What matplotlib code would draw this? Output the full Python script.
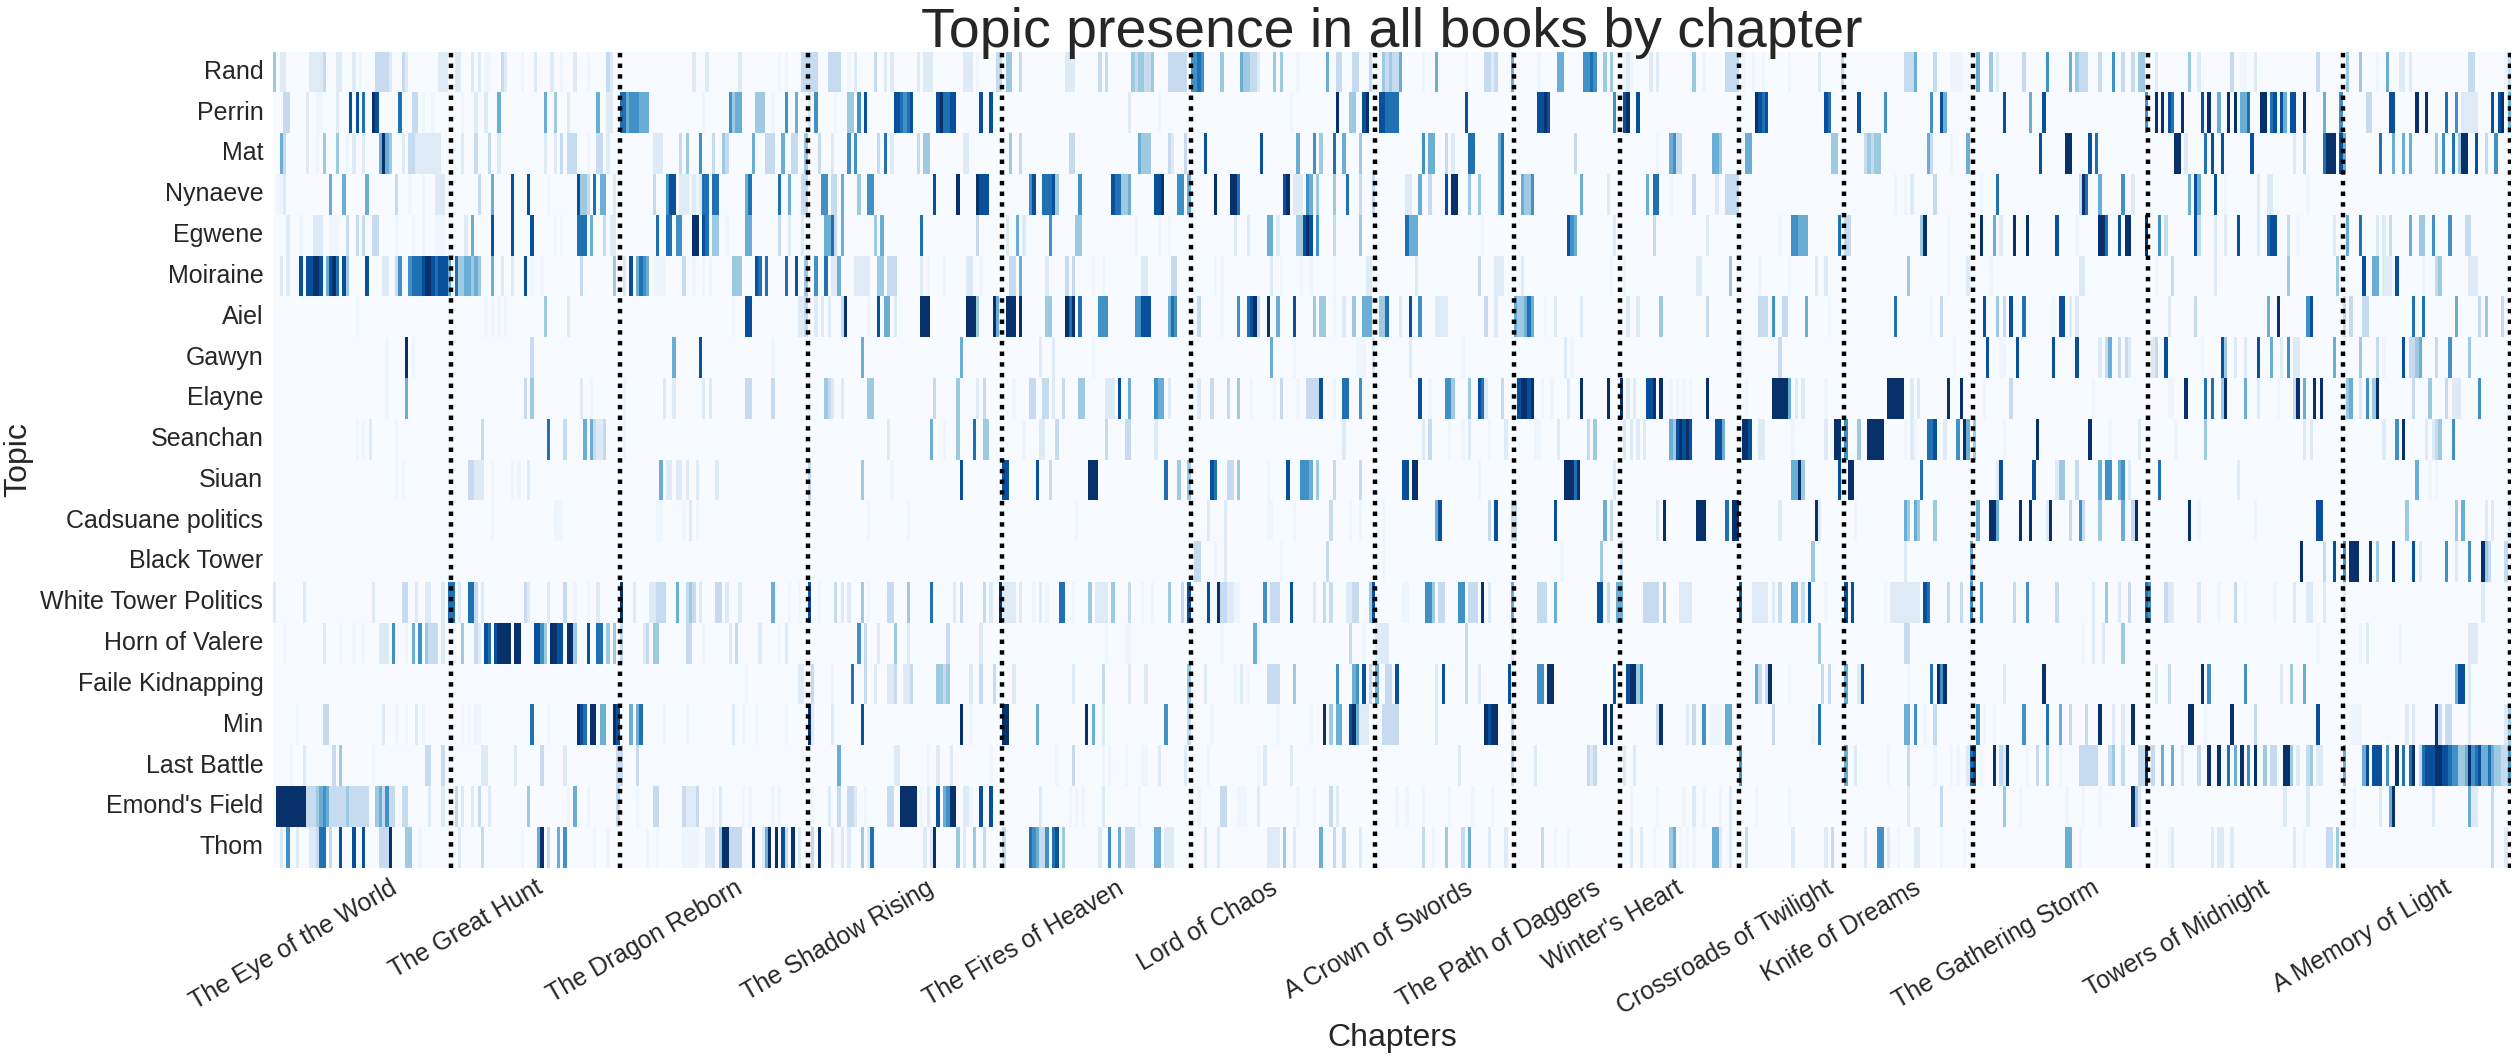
import numpy as np
import pandas as pd
import matplotlib
matplotlib.use("Agg")
import matplotlib.pyplot as plt
import seaborn as sns

# Book names and number of chapters per book (prologue/epilogue included)
books = ["The Eye of the World", "The Great Hunt", "The Dragon Reborn", "The Shadow Rising",
         "The Fires of Heaven", "Lord of Chaos", "A Crown of Swords", "The Path of Daggers",
         "Winter's Heart", "Crossroads of Twilight", "Knife of Dreams", "The Gathering Storm",
         "Towers of Midnight", "A Memory of Light"]
book_chapters = [54, 51, 57, 59, 57, 56, 42, 32, 36, 32, 39, 53, 59, 51]

topics = ["Rand", "Perrin", "Mat", "Nynaeve", "Egwene", "Moiraine", "Aiel", "Gawyn", "Elayne",
          "Seanchan", "Siuan", "Cadsuane politics", "Black Tower", "White Tower Politics",
          "Horn of Valere", "Faile Kidnapping", "Min", "Last Battle", "Emond's Field", "Thom"]

# Topic presence: chapter -> strength (1 faint .. 9 full)
rand = {0:4,2:2,3:2,11:2,12:2,13:2,14:2,15:3,19:2,20:2,24:2,26:1,31:3,32:3,33:3,34:3,35:2,39:3,40:2,50:2,51:2,52:2,
        55:2,56:2,60:2,62:2,64:1,65:1,69:3,70:2,75:1,79:2,84:2,87:1,91:2,95:1,101:3,102:2,
        127:2,131:2,141:2,153:1,155:1,160:3,161:3,162:3,163:3,164:3,168:3,169:3,170:3,171:3,174:1,176:2,182:3,185:2,187:2,195:2,197:2,198:2,199:2,
        209:2,210:2,211:2,213:1,219:3,220:3,222:4,223:4,226:3,240:2,241:2,242:2,250:3,252:3,260:4,261:3,262:4,263:4,264:3,265:3,266:4,
        271:3,272:3,273:3,274:3,275:3,276:3,278:6,279:6,280:7,281:6,287:4,293:5,294:4,295:4,296:3,297:3,298:2,
        303:4,305:4,310:1,319:5,322:3,323:3,327:3,328:3,332:3,336:4,337:3,338:4,339:3,340:3,341:5,348:1,352:5,361:1,367:3,368:3,369:2,370:3,375:5,
        383:1,389:5,390:5,397:6,398:6,399:7,400:6,403:4,405:4,409:1,410:2,411:1,417:2,419:2,430:4,433:1,440:3,441:3,442:3,443:3,445:1,448:1,451:1,459:1,468:2,475:3,
        494:3,495:3,496:3,497:5,503:3,508:1,509:1,510:1,511:1,516:5,520:4,522:2,530:3,537:6,544:5,546:4,547:3,548:3,549:3,553:3,557:6,560:3,563:3,565:4,566:4,
        570:2,580:4,583:2,593:3,596:1,597:1,600:2,619:3,628:4,632:4,637:1,640:5,644:2,645:2,647:2,665:3,666:3,676:1,677:3}
perrin = {3:3,4:3,10:2,13:1,14:1,19:2,23:8,25:8,27:7,30:9,31:8,38:7,42:3,43:3,45:1,48:1,57:1,61:2,64:2,68:5,82:5,85:4,89:2,98:5,101:2,102:2,
          105:7,106:7,107:5,108:6,109:6,110:6,111:5,112:5,113:5,130:1,138:6,139:4,140:5,141:5,146:4,147:4,148:4,151:1,155:6,158:5,162:2,164:6,170:1,174:4,175:4,177:6,179:8,
          188:8,189:8,190:7,191:6,192:7,193:8,201:8,202:9,203:7,204:7,205:8,206:8,214:8,217:8,259:2,268:1,
          308:1,322:9,326:4,327:4,330:8,331:9,335:8,336:8,337:7,338:7,339:7,340:7,361:8,383:8,384:8,385:9,386:8,406:6,409:8,410:9,413:8,
          449:9,450:8,451:7,452:8,470:8,471:7,480:8,488:6,502:6,505:8,506:5,524:8,532:5,536:8,
          567:6,570:9,572:9,574:8,575:7,578:9,584:8,586:9,589:5,592:9,594:9,596:5,597:5,598:7,602:9,603:9,605:7,606:8,608:8,609:5,611:8,612:8,615:9,621:5,626:6,
          634:3,635:3,641:8,642:8,649:9,652:9,658:7,661:6,663:2,664:2,665:2,666:2,667:2,672:8,674:8,675:9,677:5}
mat = {2:5,3:3,10:2,13:1,15:4,19:4,22:1,24:2,27:2,32:5,33:9,34:5,35:4,39:2,41:3,42:3,43:2,44:2,45:2,46:2,47:2,48:2,49:2,50:2,
       57:2,61:3,65:3,68:2,82:2,85:2,87:3,89:3,90:3,91:3,95:1,98:3,99:3,101:2,
       115:2,116:2,117:2,123:3,125:4,129:6,133:3,136:4,137:3,145:5,149:3,150:3,151:3,154:5,157:3,158:3,161:4,165:3,169:2,174:6,176:6,183:3,185:7,187:2,
       195:3,197:4,198:4,209:2,210:2,223:4,226:3,241:3,242:3,262:5,263:4,264:4,265:4,271:3,272:2,276:3,282:8,299:8,
       310:5,315:6,317:4,321:7,324:5,329:4,348:6,350:5,351:5,355:3,357:2,362:7,363:7,371:5,372:7,394:3,419:1,423:5,424:6,425:3,426:3,
       436:5,437:5,438:4,446:5,447:5,472:4,473:4,482:3,483:4,484:3,485:4,486:4,501:5,502:3,508:1,513:5,535:8,543:9,544:9,550:8,552:7,
       576:9,577:9,579:2,585:7,587:8,590:8,599:8,612:2,615:3,621:7,622:9,623:9,624:9,626:8,627:5,
       638:7,642:5,645:5,647:5,655:4,657:6,660:7,662:4,663:9,664:9,667:8,670:3,673:6}
nynaeve = {1:1,2:1,3:2,17:5,21:5,28:5,37:3,41:1,45:1,49:2,50:2,51:2,62:3,66:5,72:8,77:8,83:1,92:8,93:4,94:4,95:3,97:7,99:5,100:5,103:2,
           115:3,119:6,120:8,121:8,123:2,124:2,125:2,126:1,127:2,128:1,129:2,130:7,131:7,133:7,134:7,143:5,144:7,153:7,156:5,160:3,161:3,
           166:6,167:6,169:3,170:3,172:5,177:4,180:6,181:6,200:8,207:9,213:9,214:8,215:8,216:8,229:6,230:8,233:7,234:7,235:7,236:8,237:4,244:6,
           254:8,255:7,256:7,257:4,258:4,259:5,267:8,268:8,269:9,274:6,275:6,277:5,285:9,290:9,291:9,292:7,
           306:8,307:9,309:2,310:2,311:2,313:6,314:5,316:4,321:4,325:7,329:3,333:3,343:2,344:2,347:5,350:3,355:8,357:9,358:9,362:4,365:4,371:5,372:7,
           378:5,379:4,380:4,381:6,396:5,404:2,416:5,418:7,419:7,423:1,430:3,437:2,440:3,441:3,442:3,443:3,
           491:1,494:1,496:2,503:3,517:1,522:7,547:3,548:9,549:7,553:5,560:6,563:2,580:5,582:8,583:5,588:8,591:1,601:2,604:2,605:2,616:1}
egwene = {4:2,8:1,12:2,13:2,14:2,17:1,18:1,19:1,22:3,25:3,27:3,30:3,31:3,37:1,42:1,45:1,49:1,50:1,51:1,58:2,60:5,66:8,72:8,78:8,85:1,87:1,
          92:7,93:7,94:7,96:5,100:3,102:2,103:2,116:7,119:7,120:7,122:6,123:6,127:9,128:9,130:8,131:7,133:4,134:4,137:1,143:5,144:5,153:3,156:2,160:2,
          167:5,168:5,169:7,170:3,172:5,182:4,184:5,196:7,213:3,222:2,225:5,227:2,235:6,243:4,244:4,261:1,268:1,271:1,291:2,295:2,301:5,302:5,304:2,
          310:4,311:4,312:8,313:9,314:8,316:6,321:3,329:4,343:7,344:5,345:5,346:5,366:1,392:8,393:6,394:5,406:2,418:3,434:2,456:1,460:6,461:6,462:5,463:5,464:5,
          474:7,476:3,477:3,499:4,500:9,507:1,517:9,521:5,523:2,527:9,531:9,540:8,546:1,553:9,554:9,555:7,559:8,561:9,562:9,567:9,
          571:6,573:3,582:8,583:3,588:2,591:2,595:8,601:2,604:7,605:8,606:8,610:3,613:1,624:2,628:5,632:7,637:2,639:2,641:3,647:5,650:4,651:4,654:6,659:6,664:3,665:3}
moiraine = {2:2,4:2,8:8,10:8,11:8,12:9,13:9,14:8,16:5,17:8,18:9,19:7,21:8,22:4,28:8,33:2,34:2,37:3,38:6,41:6,42:7,43:7,44:7,45:8,46:9,47:9,48:8,49:7,50:8,51:8,52:8,53:5,
            55:7,56:4,57:4,58:5,59:5,60:4,61:5,62:4,66:5,69:2,72:2,76:8,78:1,81:1,93:3,103:4,106:2,108:8,110:5,111:7,112:6,113:5,115:1,116:1,117:1,118:1,124:3,127:1,130:1,132:1,
            139:4,140:4,141:4,146:8,147:7,149:7,155:7,158:8,161:4,164:6,167:7,169:2,170:2,171:5,176:2,177:2,178:2,179:2,180:2,183:4,184:4,186:3,187:3,188:3,196:2,198:1,203:1,210:2,211:2,214:1,
            223:3,224:3,226:5,234:2,240:3,242:3,248:1,251:1,263:2,264:2,272:3,273:3,285:1,287:1,302:2,305:1,311:1,314:1,321:1,331:2,332:2,346:2,365:3,370:2,371:2,372:2,378:2,
            405:1,409:1,431:2,432:2,441:4,450:1,459:1,467:2,470:2,495:4,507:1,513:2,520:1,547:2,548:2,570:1,575:3,588:2,610:4,625:4,
            633:8,636:5,637:5,639:2,640:2,641:2,643:8,651:1,655:3,656:4,665:2,666:2,667:2}
aiel = {25:1,64:1,66:1,68:1,70:1,82:4,89:2,139:1,143:8,144:8,159:2,160:2,161:3,164:2,166:2,168:2,172:3,173:9,180:1,183:8,185:5,186:5,188:2,
        196:9,197:9,198:9,210:9,211:9,212:9,213:4,218:9,219:5,222:9,223:9,224:9,226:9,234:4,235:4,240:9,241:7,242:9,244:7,250:6,251:6,252:6,
        261:6,262:6,263:8,264:8,265:8,271:5,272:7,273:6,280:3,287:1,292:6,295:7,296:8,297:9,298:3,301:9,304:5,309:8,315:4,317:4,318:4,321:1,324:2,327:4,330:5,331:5,332:5,335:4,336:4,337:7,
        341:2,344:8,347:6,352:2,353:2,354:2,355:2,367:3,370:2,376:5,377:4,378:4,379:5,380:7,381:5,385:1,388:2,396:2,410:2,413:2,420:4,434:3,450:3,451:3,452:3,454:6,457:3,458:3,464:5,471:1,
        491:7,502:1,505:3,518:8,522:4,524:3,526:8,530:7,539:1,541:8,542:8,544:2,546:2,574:2,582:3,604:5,607:9,616:6,617:8,627:3,629:3,633:3,634:3,648:7,651:7,661:5,668:3,670:4,675:3}
gawyn = {34:1,40:9,42:1,78:3,121:5,129:8,151:1,178:5,208:5,232:2,236:2,248:1,302:5,309:1,328:1,329:1,330:1,333:2,344:2,360:1,391:2,393:1,444:2,456:3,
         509:1,519:8,523:1,524:1,528:8,539:8,546:8,553:2,555:3,556:5,559:3,561:3,562:2,569:2,570:3,573:8,584:1,590:8,591:4,594:2,597:2,601:8,605:5,608:2,610:6,612:2,613:2,
         624:5,632:4,637:3,639:1,645:8,647:3,648:3,649:4,650:5,655:3,659:6,665:4}
elayne = {34:1,40:5,76:3,78:4,93:2,96:1,106:1,118:2,121:2,130:2,132:2,143:3,144:3,151:3,162:1,167:4,168:3,169:2,172:2,180:4,181:4,200:3,207:4,213:2,215:3,224:1,229:3,230:3,233:3,234:3,236:2,239:3,
          244:4,245:4,252:2,253:2,254:2,256:8,259:5,267:6,268:5,269:5,271:2,280:2,284:3,289:3,292:4,296:1,303:1,305:3,310:1,313:3,314:3,315:3,316:3,317:8,321:1,324:7,325:7,329:6,
          347:8,350:1,355:6,356:6,357:4,362:4,365:8,366:7,367:2,372:3,377:8,378:9,379:9,380:8,381:9,384:1,387:1,392:2,396:9,404:9,408:9,410:2,412:2,416:8,417:8,418:9,420:9,
          423:1,425:1,427:1,429:1,434:9,446:1,454:9,455:9,456:9,457:9,458:9,459:5,461:2,463:2,470:1,489:9,490:9,491:9,492:9,493:9,496:2,498:2,507:9,511:9,518:1,526:3,551:1,
          574:1,575:1,579:9,585:7,587:7,590:4,591:9,597:5,601:2,607:1,612:3,613:9,615:5,618:9,620:9,628:4,629:5,632:2,634:6,636:4,637:9,648:3,653:4,658:3,660:2,661:2,662:2,668:6,677:1}
seanchan = {25:1,27:1,29:2,37:1,63:3,83:7,88:3,94:5,96:5,97:3,98:2,99:2,100:3,106:1,186:2,199:5,203:1,207:4,212:7,215:4,216:4,227:1,232:2,233:2,237:3,252:3,258:3,259:3,267:2,324:2,348:2,350:3,356:1,360:1,362:2,368:1,373:2,
            382:1,383:1,389:2,398:3,400:4,409:2,411:2,413:2,415:2,423:5,424:4,425:8,426:9,427:8,428:9,429:8,437:8,438:8,439:5,445:9,446:9,447:8,450:2,451:2,460:1,470:2,473:9,474:9,476:6,480:4,483:9,484:9,485:9,486:9,487:9,
            494:1,496:2,497:1,501:7,502:7,503:8,506:2,510:6,512:9,513:5,515:4,524:1,534:9,550:9,556:1,565:2,576:1,585:4,615:2,617:2,639:2,643:6,645:9,652:2,654:2,655:3,656:4,660:6}
siuan = {37:1,39:1,59:3,60:3,61:2,62:2,63:2,66:1,72:1,74:1,77:2,117:5,119:2,120:2,122:2,123:2,125:2,128:2,134:2,162:3,178:4,187:1,208:8,221:8,222:8,231:8,235:3,247:9,248:9,249:9,270:7,274:4,277:4,284:8,285:7,289:3,290:3,292:4,
         301:1,307:8,311:6,312:6,313:6,314:5,316:4,321:3,329:3,342:8,343:8,345:9,346:9,365:1,391:9,392:9,393:9,394:7,395:9,406:2,460:5,461:5,462:9,463:4,474:8,477:9,478:9,
         499:7,522:2,523:8,533:8,540:2,541:4,542:4,546:3,553:5,555:6,556:6,559:5,560:6,562:2,571:7,595:2,649:5,653:1,655:1}
cadsuane = {66:1,85:1,86:1,87:1,116:1,117:1,124:1,126:2,128:1,180:1,192:1,243:1,283:2,288:2,301:1,302:1,309:1,320:3,326:1,329:1,336:1,352:5,353:8,368:3,370:8,375:3,376:3,388:8,403:5,405:3,419:2,421:9,431:9,432:9,433:9,
            440:7,442:9,443:9,456:2,467:9,468:2,479:1,494:5,495:4,497:5,498:4,503:4,516:5,520:9,521:9,522:5,529:9,532:9,537:2,538:9,544:3,547:6,548:3,553:4,560:5,563:3,564:9,580:9,583:1,600:1,619:8,620:8,646:4,661:4,663:5,670:2,672:2,677:2}
black_tower = {279:3,280:3,285:1,288:2,305:1,319:3,336:1,390:1,402:4,408:3,466:4,494:2,514:5,614:9,621:3,624:8,627:6,629:9,630:9,631:9,635:9,637:4,642:9,648:8,650:2,658:6,661:2,665:6,669:9,670:4,671:3,676:3}
white_tower = {0:2,9:2,30:2,39:3,40:3,43:2,46:2,47:2,51:2,53:7,54:7,56:2,59:7,60:7,61:3,63:2,76:3,77:2,83:2,88:3,91:1,95:1,98:2,105:9,109:2,114:2,115:2,116:3,117:3,118:3,122:5,125:3,126:4,127:3,129:2,134:3,135:3,137:2,141:2,151:5,156:1,159:1,
               162:8,165:1,170:3,172:2,174:2,178:4,180:1,186:3,187:3,192:4,199:7,206:2,208:3,215:3,217:2,220:9,221:2,222:2,223:2,224:2,226:2,230:1,232:2,234:1,238:7,239:7,242:1,247:4,249:2,250:2,251:2,252:2,254:4,259:3,263:1,266:1,271:4,275:3,277:8,283:8,286:9,287:3,288:3,289:2,290:2,291:1,292:1,300:6,
               302:3,303:3,304:3,308:8,315:2,318:3,320:3,325:2,326:2,327:3,328:3,332:4,333:8,342:1,343:1,349:6,350:6,351:4,353:3,354:3,359:6,360:6,362:3,363:3,364:3,366:9,368:2,375:5,383:3,384:3,385:3,388:5,401:8,402:8,404:3,407:5,408:5,415:3,416:3,417:3,418:3,419:3,421:4,426:2,427:2,428:2,429:2,
               444:8,448:2,449:2,450:2,451:2,452:2,454:2,456:3,460:5,461:5,463:3,465:8,470:1,476:8,478:8,488:1,490:2,491:2,492:2,493:2,494:2,495:2,496:2,497:2,498:2,500:8,501:7,507:3,511:3,514:6,517:6,527:3,531:6,540:3,551:2,555:4,559:2,562:3,567:7,568:6,
               573:3,574:2,575:2,583:2,589:1,594:3,597:1,606:1,612:2,616:2,617:2,621:2,627:2,669:2}
horn = {3:1,15:2,20:1,24:1,27:1,32:2,33:2,34:2,36:6,40:1,42:5,44:6,46:4,47:3,48:3,49:3,51:2,57:4,61:3,62:2,64:8,65:7,67:8,68:9,69:9,70:9,71:9,73:9,74:9,79:8,80:8,81:6,82:4,84:9,85:9,86:8,87:8,89:9,90:9,91:4,95:8,98:7,99:7,101:4,103:4,105:3,
        112:2,113:3,115:4,116:4,125:3,126:3,130:1,138:2,140:3,147:2,153:1,155:2,177:6,179:3,183:2,188:4,192:2,204:3,214:2,252:1,258:1,259:1,287:1,297:5,298:1,326:3,330:1,334:2,335:2,336:2,337:2,361:3,375:2,468:4,494:3,495:3,514:1,548:1,551:2,554:2,560:4,619:1,632:1,634:2,644:1,665:2,666:2,667:2}
faile = {143:1,159:2,160:2,163:3,169:1,175:7,179:3,182:2,186:2,187:2,188:3,191:2,192:2,193:3,201:4,202:4,203:3,204:4,211:2,214:3,218:3,224:2,242:2,251:3,259:2,264:2,277:4,282:2,291:1,293:2,295:1,301:3,302:3,303:3,304:3,309:4,322:6,327:5,328:6,330:8,332:3,334:5,337:3,338:3,340:8,352:2,354:8,361:3,365:2,374:8,
         383:6,384:6,386:9,387:9,406:8,410:8,411:9,412:9,413:4,414:6,449:5,450:3,452:3,453:9,459:1,469:3,471:3,476:5,480:2,481:8,495:1,502:7,504:9,505:6,506:9,524:2,536:9,570:2,574:3,584:9,586:6,597:6,608:2,611:4,615:5,661:5,662:8,663:8,665:2}
min_topic = {7:1,15:3,16:3,33:2,37:1,40:1,43:2,45:1,57:1,59:1,61:1,62:1,78:7,83:1,92:9,93:8,94:7,96:9,97:9,99:5,100:5,103:9,104:8,108:5,110:5,111:7,118:1,125:1,139:2,142:1,146:1,155:1,162:9,163:2,169:2,178:8,208:9,211:1,221:9,222:9,231:5,246:9,248:5,251:2,270:6,277:3,284:1,
             304:1,314:1,318:9,320:4,322:5,323:5,326:8,327:9,328:5,329:2,330:2,331:2,336:3,337:3,338:3,339:3,340:3,352:2,367:9,368:8,369:9,370:9,375:3,403:9,405:9,419:3,420:9,428:2,430:3,433:6,435:1,436:1,437:1,438:1,440:5,441:5,454:3,466:1,468:7,
             494:5,495:5,497:6,500:1,503:3,516:6,518:1,521:1,530:6,537:7,541:5,544:3,549:3,553:9,557:2,560:2,563:9,580:9,581:9,585:1,593:9,600:3,619:8,629:1,630:1,631:1,632:1,646:2,648:2,655:9,656:3,658:3,659:3,665:2,676:2,677:4}
last_battle = {5:1,9:2,18:3,20:4,30:1,46:3,47:3,51:3,63:2,64:2,73:2,81:3,88:2,104:3,105:3,110:3,160:1,171:5,188:2,189:2,198:1,201:2,205:2,217:1,237:1,242:3,251:1,253:1,258:1,263:1,264:1,268:2,276:2,283:1,298:1,300:2,308:2,359:2,375:3,382:2,398:3,399:2,400:3,409:2,412:2,444:6,476:5,479:2,489:1,
               495:3,503:1,508:1,510:1,513:2,514:7,515:8,517:1,521:9,523:3,524:2,525:9,531:1,534:3,537:4,541:1,547:3,548:3,549:3,550:3,551:3,552:3,556:3,557:4,560:3,565:3,566:3,567:9,569:3,572:5,575:5,578:2,583:3,586:9,589:9,592:7,594:5,596:9,598:6,600:9,603:4,605:3,606:3,609:9,610:9,611:4,613:2,616:3,617:4,619:2,620:2,627:5,
               633:5,634:8,636:8,637:8,638:8,640:6,643:9,645:7,647:7,648:9,650:3,651:7,652:8,653:8,654:8,655:9,656:9,657:8,658:8,659:7,660:6,661:6,662:4,663:4,664:5,665:9,666:6,667:7,668:8,669:5,670:5,671:7,672:5,673:4,674:4,675:3,676:3,677:6}
emonds = {1:9,2:9,3:9,4:9,5:9,6:9,7:9,8:9,9:9,10:3,11:3,12:3,13:4,14:5,15:6,16:5,17:3,18:3,19:3,20:3,21:3,22:4,23:3,24:3,25:3,26:3,27:3,28:3,31:4,32:5,33:3,34:6,35:3,36:3,39:3,40:3,47:2,51:2,55:3,57:2,60:2,62:3,65:2,77:4,89:1,91:5,95:1,104:3,110:1,
          115:3,116:3,124:3,125:2,126:2,127:2,128:3,133:1,135:2,142:1,144:1,151:1,153:1,163:1,168:2,171:3,174:3,175:3,176:2,179:1,186:3,187:3,190:9,191:9,192:9,193:9,194:9,196:1,198:2,201:8,203:5,204:6,205:9,206:9,209:2,210:2,211:1,214:8,217:8,232:2,241:1,243:1,245:1,251:2,262:1,280:1,287:3,288:3,292:1,293:1,294:1,298:2,
          310:1,315:1,320:3,322:2,340:1,343:1,348:1,356:1,363:1,369:1,411:1,419:1,427:1,430:2,433:1,438:1,441:2,449:1,459:1,495:2,505:3,524:4,529:1,543:1,548:1,553:1,563:9,564:4,565:2,609:2,616:2,630:1,638:2,641:5,642:9,654:2,665:5,666:2,667:2,672:3}
thom = {2:2,4:6,7:2,11:2,12:2,13:3,14:7,15:7,17:3,20:8,24:8,27:8,32:3,33:3,34:3,35:9,40:4,41:4,44:1,56:2,63:3,75:1,80:5,81:9,83:3,86:5,88:6,97:1,101:1,113:1,116:1,124:1,125:1,126:1,127:1,128:1,131:2,132:2,133:2,135:4,136:9,137:9,138:3,139:3,140:3,141:3,145:9,148:2,149:5,150:9,152:9,154:8,155:3,157:9,159:2,
        163:3,165:9,169:2,172:2,174:2,178:4,180:2,181:7,197:2,199:2,200:9,207:4,209:2,212:4,215:3,221:3,229:7,230:6,231:5,232:3,233:3,234:6,236:7,237:8,239:4,250:2,253:6,256:5,258:3,259:3,260:3,267:5,268:5,270:2,271:2,272:2,282:2,286:2,
        301:2,302:2,303:2,304:2,306:4,309:2,317:5,321:3,324:3,329:2,348:3,351:1,355:4,360:3,362:5,368:2,373:2,384:3,388:1,392:1,411:2,414:2,418:1,423:4,424:5,426:1,428:1,430:1,436:5,437:5,438:2,441:2,446:3,460:2,470:2,472:3,482:2,486:6,487:6,489:2,
        492:1,497:2,498:2,505:1,512:1,543:5,544:5,547:1,570:1,574:1,575:2,587:2,589:2,590:2,593:2,612:2,615:1,622:3,623:3,625:4,672:3,676:2}

topic_values = [rand, perrin, mat, nynaeve, egwene, moiraine, aiel, gawyn, elayne, seanchan, siuan, cadsuane,
                black_tower, white_tower, horn, faile, min_topic, last_battle, emonds, thom]

# Build the topic x chapter table
n_chapters = sum(book_chapters)
table = np.zeros((len(topics), n_chapters))
for row, values in enumerate(topic_values):
    for chapter, strength in values.items():
        table[row, chapter] = max(strength - 1, 0.4)
df = pd.DataFrame(table, index=topics)

book_ends = np.cumsum(book_chapters)
label_ticks = [6.3, 58.5, 112.5, 171, 227.5, 283, 335, 371.5, 406, 440, 475, 522, 577, 633]

sns.set_theme(style="white", font="Liberation Sans")
fig = plt.figure(figsize=(25.12, 10.6), dpi=100)
ax = fig.add_axes([273 / 2512, 1 - 867.5 / 1060, (2511 - 273) / 2512, (867.5 - 51.5) / 1060])

sns.heatmap(df, cmap="Blues", vmin=0, vmax=8, cbar=False, ax=ax, xticklabels=False, yticklabels=topics)

# Dotted line at the end of every book
for end in book_ends:
    ax.axvline(end - 0.3 if end == n_chapters else end, color="black", linestyle=(0, (1, 1.4)), linewidth=3.2)

ax.set_title("Topic presence in all books by chapter", fontsize=40, pad=3)
ax.set_xticks(label_ticks)
ax.set_xticklabels(books, rotation=30, ha="center", fontsize=18)
ax.tick_params(axis="y", labelsize=18, rotation=0, length=0, pad=7)
ax.tick_params(axis="x", length=0, pad=6)
ax.set_xlabel("Chapters", fontsize=23, va="center")
ax.set_ylabel("Topic", fontsize=23, va="center")
ax.xaxis.set_label_coords(0.5, -0.209)
ax.yaxis.set_label_coords(-0.114, 0.5)

fig.savefig("out.png", dpi=100)
